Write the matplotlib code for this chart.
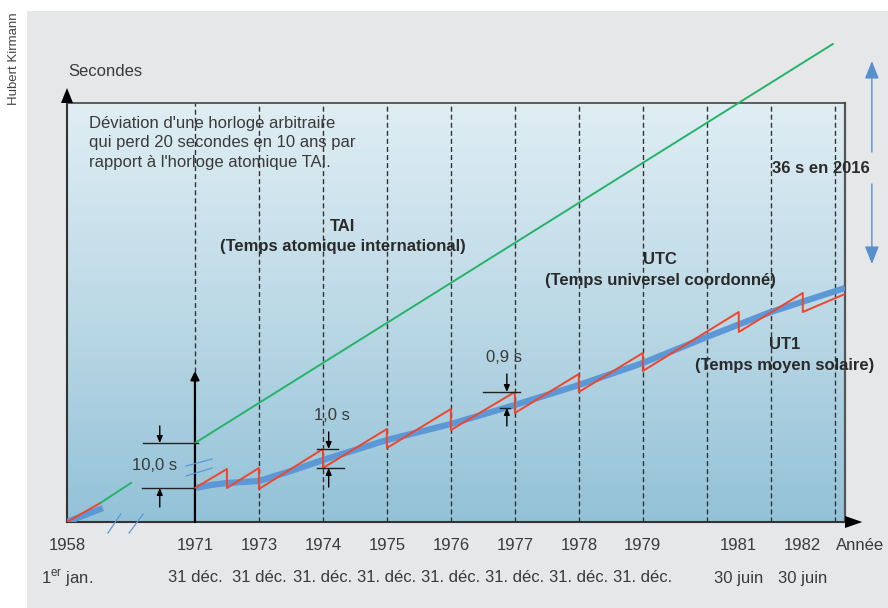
import numpy as np
import matplotlib
matplotlib.use("Agg")
import matplotlib.pyplot as plt
from matplotlib.colors import LinearSegmentedColormap
from matplotlib.patches import Rectangle, Polygon

plt.rcParams['font.family'] = ['Liberation Sans', 'DejaVu Sans']
plt.rcParams['mathtext.fontset'] = 'custom'
plt.rcParams['mathtext.rm'] = 'Liberation Sans'

# Data (x = slot position along the schematic time axis, y = deviation in chart units)
years = ['1958', '1971', '1973', '1974', '1975', '1976', '1977', '1978', '1979', '1981', '1982']
dates = ['1$^{\\rm er}$ jan.', '31 déc.', '31 déc.', '31. déc.', '31. déc.', '31. déc.',
         '31. déc.', '31. déc.', '31. déc.', '30 juin', '30 juin']
year_pos = [0, 2, 3, 4, 5, 6, 7, 8, 9, 10.5, 11.5]
dashed_pos = [3, 4, 5, 6, 7, 8, 9, 10, 11, 12]

# TAI (green)
tai_x0 = [0.52, 1.0]
tai_y0 = [19, 39]
tai_x = [2, 11.97]
tai_y = [79, 478]

# UTC (red sawtooth)
utc_x0 = [0, 0.52]
utc_y0 = [0, 19]
utc_x = [2, 2.5, 2.5, 3, 3, 4, 4, 5, 5, 6, 6, 7, 7, 8, 8, 9, 9, 10.5, 10.5, 11.5, 11.5, 12.16]
utc_y = [34, 53, 34, 54, 33, 73, 54, 93, 74, 113, 92, 130, 109, 148, 130, 169, 151, 210, 190, 229, 210, 228]

# UT1 (thick blue)
ut1_x0 = [0, 0.56]
ut1_y0 = [0, 14]
ut1_x = [2, 2.25, 2.5, 2.75, 3, 3.5, 4, 4.5, 5, 6, 7, 8, 9, 10, 11, 12.16]
ut1_y = [34, 37, 39, 40, 41, 51, 62, 72, 82, 98, 117, 137, 159, 185, 210, 234]

XMAX, YMAX = 12.16, 419
GREEN = '#25b36a'
RED = '#f0452b'
BLUE = '#5d98d6'
TXT = '#3a3a3a'

fig = plt.figure(figsize=(8.88, 6.08), dpi=100)
fig.patch.set_facecolor('white')
fig.patches.append(Rectangle((27 / 888, 0), 1, 1 - 11 / 608, transform=fig.transFigure,
                             facecolor='#e6e7e9', edgecolor='none', zorder=-10))
fig.text(14 / 888, 1 - 59 / 608, 'Hubert Kirmann', rotation=90, ha='center', va='center',
         fontsize=9.5, color='#444444')

ax = fig.add_axes([67 / 888, 86 / 608, 778 / 888, 419 / 608])
ax.set_xlim(0, XMAX)
ax.set_ylim(0, YMAX)
ax.set_xticks([])
ax.set_yticks([])

grad = LinearSegmentedColormap.from_list('bg', ['#93c2d8', '#bcd9e6', '#e0eef4'])
ax.imshow(np.linspace(0, 1, 256).reshape(-1, 1), extent=[0, XMAX, 0, YMAX], origin='lower',
          cmap=grad, aspect='auto', zorder=0)

for side in ['left', 'bottom']:
    ax.spines[side].set_color('#333333')
    ax.spines[side].set_linewidth(1.5)
ax.spines['top'].set_color('#444444')
ax.spines['top'].set_linewidth(1.2)
ax.spines['right'].set_color('#555555')
ax.spines['right'].set_linewidth(1.6)

# axis arrowheads
ax.add_patch(Polygon([(-0.094, YMAX), (0.094, YMAX), (0, YMAX + 15)], closed=True,
                     facecolor='black', edgecolor='none', clip_on=False, zorder=5))
ax.add_patch(Polygon([(XMAX, -6), (XMAX, 6), (XMAX + 0.27, 0)], closed=True,
                     facecolor='black', edgecolor='none', clip_on=False, zorder=5))

# vertical leap-second lines
ax.vlines(dashed_pos, 0, YMAX, colors='#333333', linewidth=1, linestyles=(0, (3.6, 2.2)), zorder=2)
ax.vlines([year_pos[1]], 150, YMAX, colors='#333333', linewidth=1, linestyles=(0, (3.6, 2.2)), zorder=2)
ax.annotate('', xy=(year_pos[1], 151), xytext=(year_pos[1], 0),
            arrowprops=dict(arrowstyle='-|>,head_length=0.5,head_width=0.25', lw=1.6,
                            color='black', shrinkA=0, shrinkB=0, mutation_scale=10), zorder=4)

# series
ax.plot(ut1_x0, ut1_y0, color=BLUE, lw=4.5, solid_capstyle='butt', zorder=3)
ax.plot(ut1_x, ut1_y, color=BLUE, lw=4.5, solid_capstyle='butt', solid_joinstyle='round', zorder=3)
ax.plot(utc_x0, utc_y0, color=RED, lw=1.4, zorder=4)
ax.plot(utc_x, utc_y, color=RED, lw=1.4, zorder=4)
ax.plot(tai_x0, tai_y0, color=GREEN, lw=1.4, zorder=4)
ax.plot(tai_x, tai_y, color=GREEN, lw=1.4, zorder=4, clip_on=False)

# break marks
for x0, y0, x1, y1 in [(0.64, -11, 0.84, 8), (0.97, -11, 1.19, 8),
                       (1.86, 56, 2.27, 63), (1.86, 46, 2.27, 54)]:
    ax.plot([x0, x1], [y0, y1], color=BLUE, lw=0.9, clip_on=False, zorder=4)

# dimension markers
small = dict(arrowstyle='-|>,head_length=0.4,head_width=0.17', lw=1, color='black',
             shrinkA=0, shrinkB=0, mutation_scale=10)


def dim(xa, top, bottom, top_span, bot_span, label, lx, ly, up_from, down_from):
    ax.plot(top_span, [top, top], color='#222222', lw=1, zorder=5)
    ax.plot(bot_span, [bottom, bottom], color='#222222', lw=1, zorder=5)
    ax.annotate('', xy=(xa, top), xytext=(xa, down_from), arrowprops=small, zorder=5)
    ax.annotate('', xy=(xa, bottom), xytext=(xa, up_from), arrowprops=small, zorder=5)
    ax.text(lx, ly, label, ha='center', va='center', fontsize=12, color=TXT, zorder=6)


dim(1.45, 79, 34, [1.19, 2.05], [1.17, 1.98], '10,0 s', 1.375, 56, 15, 96)
dim(4.09, 73, 54, [3.91, 4.23], [3.91, 4.33], '1,0 s', 4.14, 106, 35, 90)
dim(6.875, 130, 114, [6.5, 7.08], [6.77, 6.92], '0,9 s', 6.83, 165, 96, 148)

# texts
ax.text(0.02, 450, 'Secondes', ha='left', va='center', fontsize=12, color=TXT)
ax.text(0.34, 379, "Déviation d'une horloge arbitraire\nqui perd 20 secondes en 10 ans par\n"
        "rapport à l'horloge atomique TAI.", ha='left', va='center', fontsize=12,
        color=TXT, linespacing=1.4)
ax.text(4.31, 285.5, 'TAI\n(Temps atomique international)', ha='center', va='center',
        fontsize=12, fontweight='bold', color='#2a2a2a', linespacing=1.4, zorder=6)
ax.text(9.27, 251.5, 'UTC\n(Temps universel coordonné)', ha='center', va='center',
        fontsize=12, fontweight='bold', color='#2a2a2a', linespacing=1.5, zorder=6)
ax.text(11.22, 167, 'UT1\n(Temps moyen solaire)', ha='center', va='center',
        fontsize=12, fontweight='bold', color='#2a2a2a', linespacing=1.45, zorder=6)
ax.text(11.78, 353, '36 s en 2016', ha='center', va='center', fontsize=12,
        fontweight='bold', color='#2a2a2a', zorder=6)

big = dict(arrowstyle='-|>,head_length=1.08,head_width=0.43', lw=1, color='#5a8fcd',
           shrinkA=0, shrinkB=0, mutation_scale=10)
ax.annotate('', xy=(12.58, 461), xytext=(12.58, 370), arrowprops=big, annotation_clip=False)
ax.annotate('', xy=(12.58, 258), xytext=(12.58, 338), arrowprops=big, annotation_clip=False)

# x labels (two rows)
tr = ax.get_xaxis_transform()
for p, yr, d in zip(year_pos, years, dates):
    ax.text(p, -23 / YMAX, yr, transform=tr, ha='center', va='center', fontsize=12, color=TXT)
    ax.text(p, -56 / YMAX, d, transform=tr, ha='center', va='center', fontsize=12, color=TXT)
ax.text(12.02, -23 / YMAX, 'Année', transform=tr, ha='left', va='center', fontsize=12, color=TXT)

fig.savefig('out.png', dpi=100)
